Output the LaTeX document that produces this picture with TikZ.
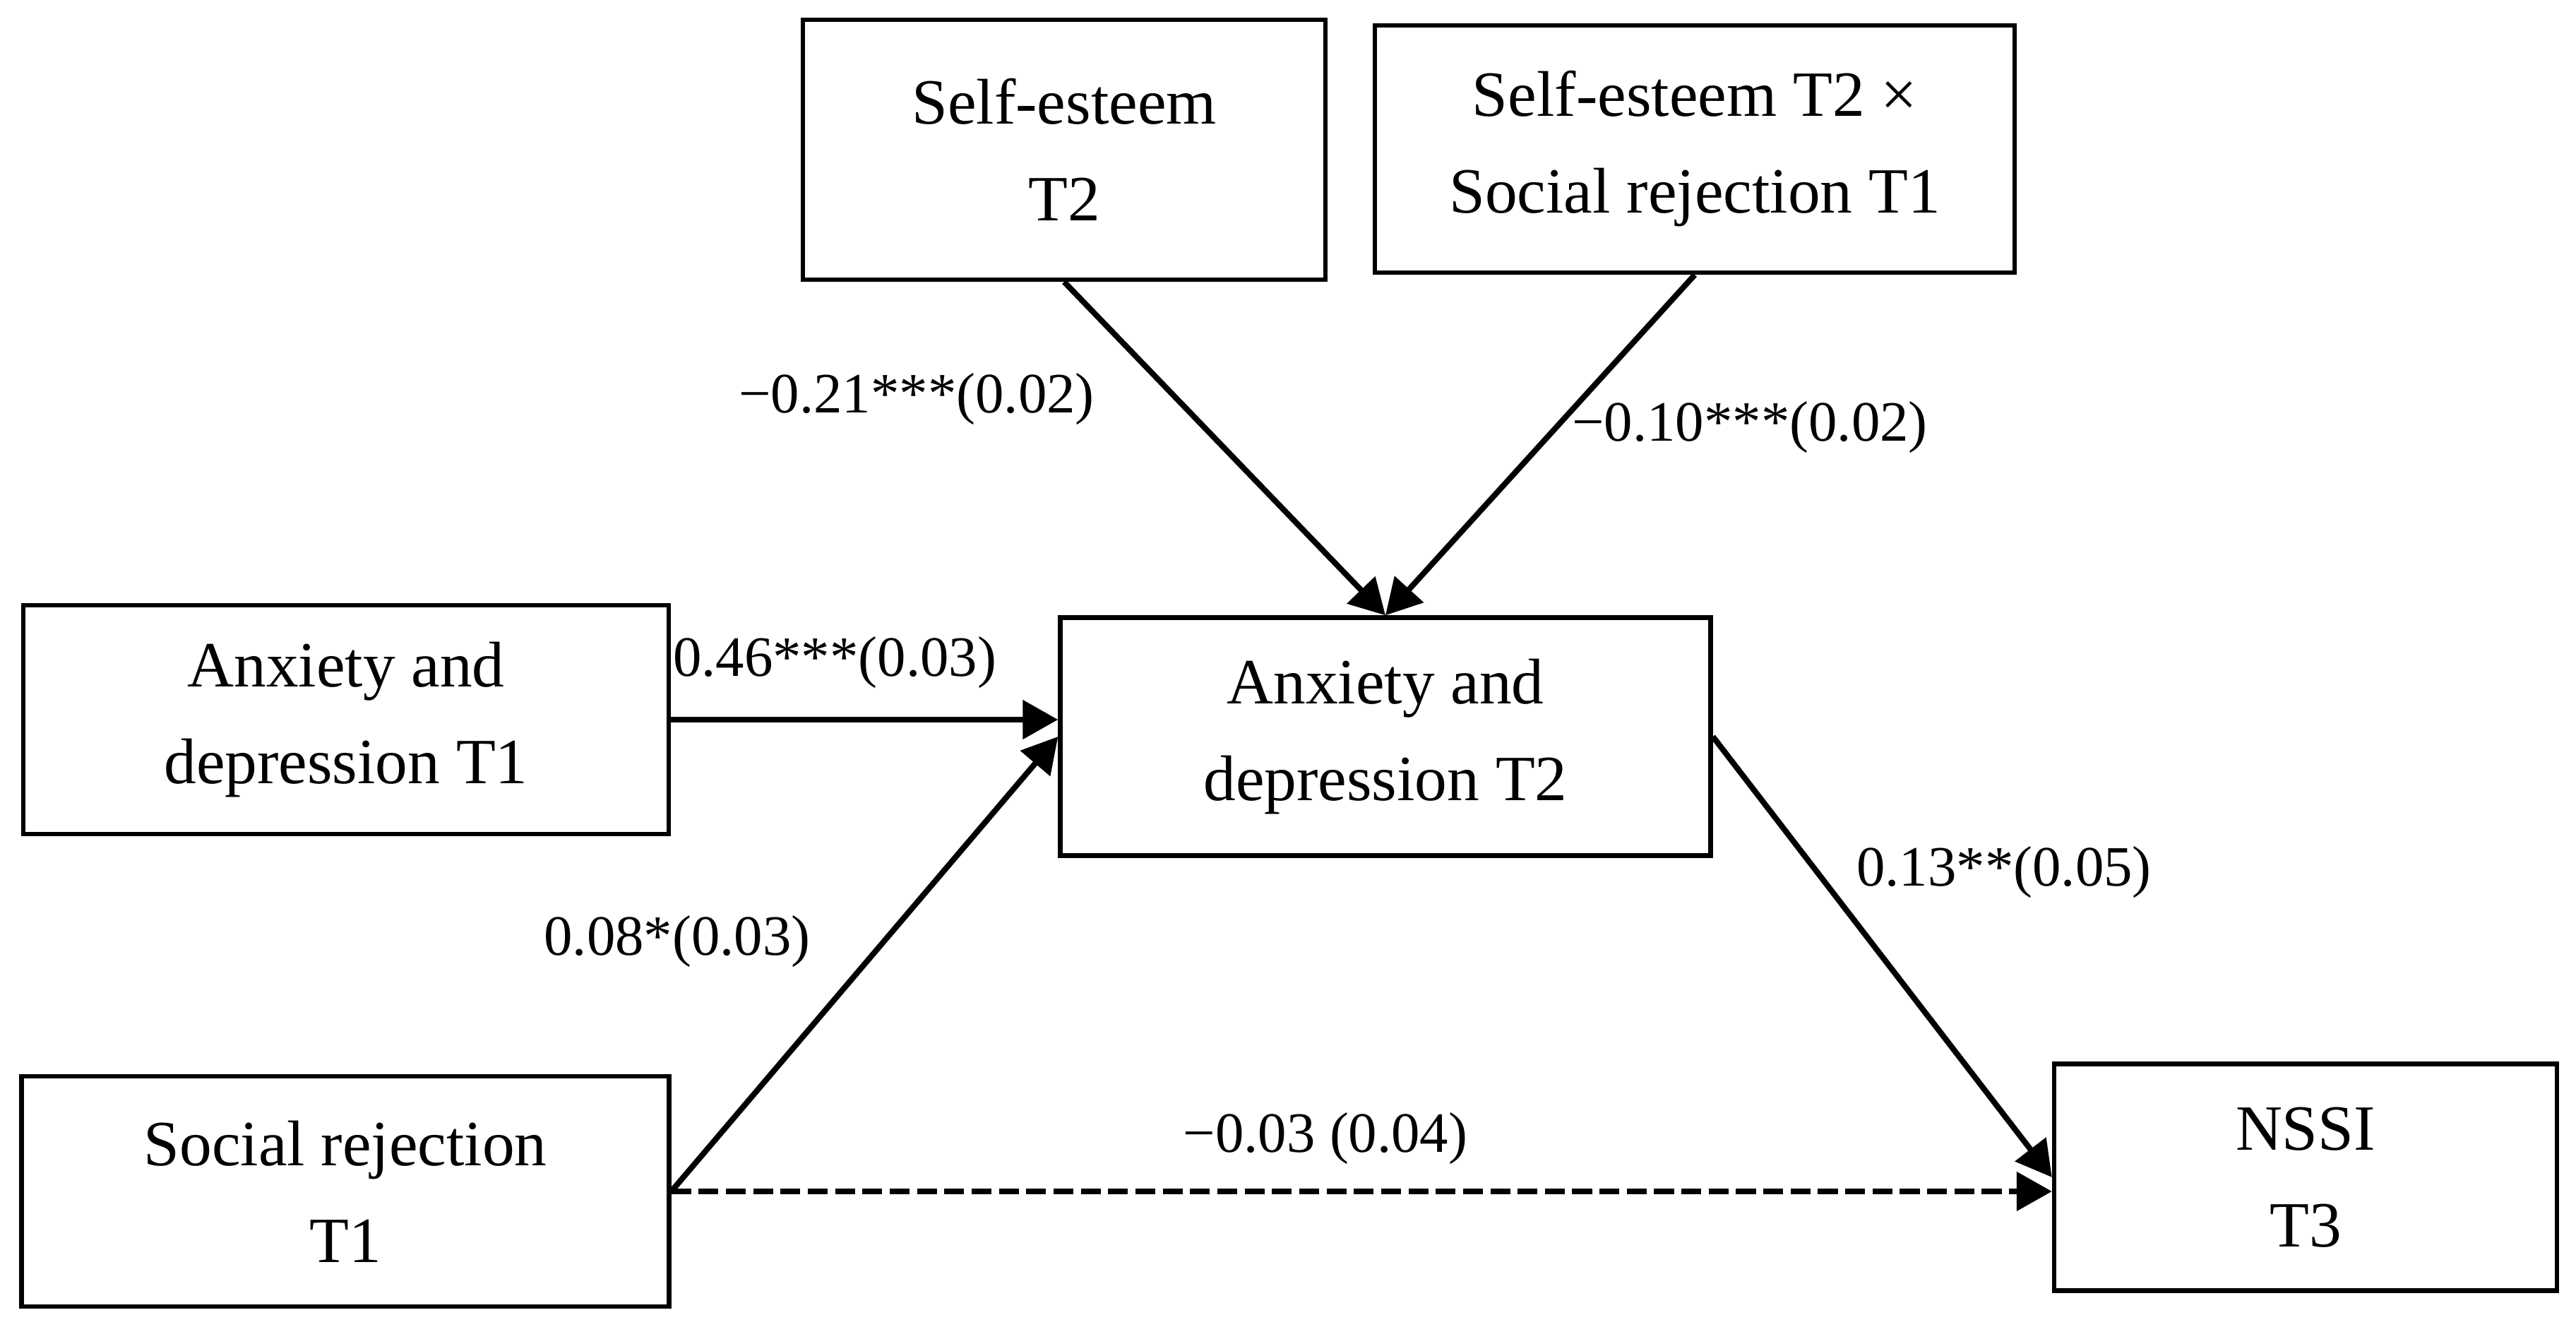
\documentclass[tikz,border=0pt]{standalone}
\usepackage{fontspec}
\setmainfont{Liberation Serif}
\usetikzlibrary{arrows.meta}
\tikzset{
  var/.style={draw, line width=1.8pt, align=center, inner sep=0pt, font=\fontsize{26}{39}\selectfont},
  coef/.style={inner sep=0pt, font=\fontsize{23}{28}\selectfont},
  link/.style={line width=2.3pt, -{Triangle[length=0.5cm,width=0.54cm]}}
}
\begin{document}
\begin{tikzpicture}
	\useasboundingbox (0,0) rectangle (36.48,18.79);
	% variables
	\node[var, minimum width=7.40cm, minimum height=3.68cm] (se) at (15.07,16.67) {Self-esteem\\T2};
	\node[var, minimum width=9.06cm, minimum height=3.50cm] (int) at (24.00,16.68) {Self-esteem T2 ×\\Social rejection T1};
	\node[var, minimum width=9.14cm, minimum height=3.24cm] (ad1) at (4.90,8.60) {Anxiety and\\depression T1};
	\node[var, minimum width=9.21cm, minimum height=3.37cm] (ad2) at (19.62,8.36) {Anxiety and\\depression T2};
	\node[var, minimum width=9.17cm, minimum height=3.26cm] (sr) at (4.89,1.92) {Social rejection\\T1};
	\node[var, minimum width=7.12cm, minimum height=3.21cm] (nssi) at (32.65,2.12) {NSSI\\T3};
	% paths
	\draw[link] (se.south) -- (ad2.north);
	\draw[link] (int.south) -- (ad2.north);
	\draw[link] (ad1.east) -- (ad1.east -| ad2.west);
	\draw[link] (sr.east) -- (ad2.west);
	\draw[link] (ad2.east) -- (nssi.west);
	\draw[link, dash pattern=on 8pt off 3pt] (sr.east) -- (sr.east -| nssi.west);
	% coefficients
	\node[coef] (c1) at (12.98,13.14) {−0.21***(0.02)};
	\node[coef] (c2) at (24.78,12.74) {−0.10***(0.02)};
	\node[coef] (c3) at (11.82,9.41) {0.46***(0.03)};
	\node[coef] (c4) at (9.59,5.46) {0.08*(0.03)};
	\node[coef] (c5) at (28.38,6.44) {0.13**(0.05)};
	\node[coef] (c6) at (18.77,2.67) {−0.03 (0.04)};
\end{tikzpicture}
\end{document}
